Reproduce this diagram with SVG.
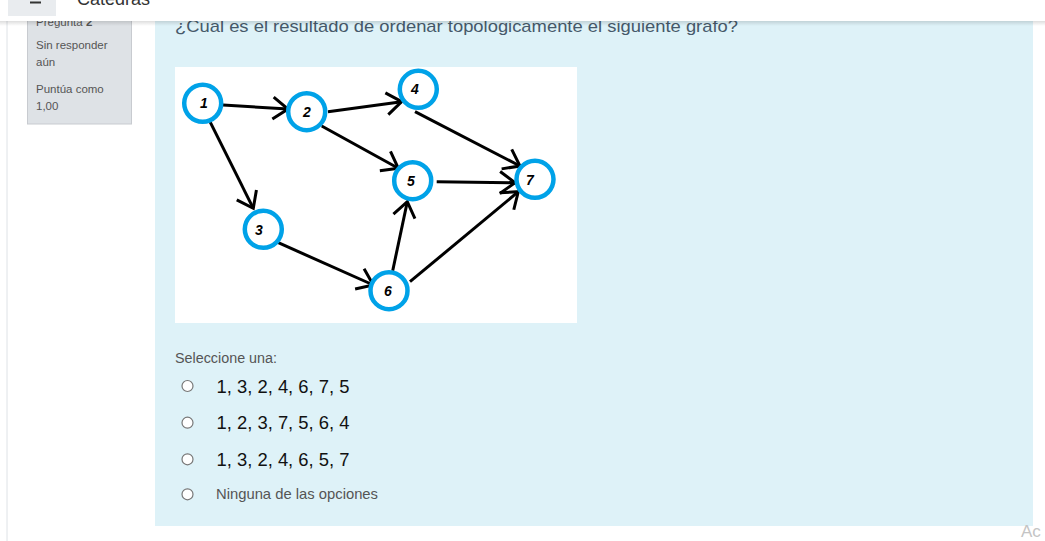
<svg xmlns="http://www.w3.org/2000/svg" width="1045" height="541" viewBox="0 0 1045 541">
<style>
.nd{fill:#fff;stroke:#00a2e8;stroke-width:4.5}
.nl{font-family:"Liberation Sans",Arial,sans-serif;font-size:14px;font-style:italic;font-weight:bold;fill:#000;text-anchor:middle}
.ed{stroke:#000;stroke-width:3;fill:none;marker-end:url(#arr)}
.opt{font-family:"Liberation Sans",Arial,sans-serif;font-size:18.5px;fill:#111}
.gray{font-family:"Liberation Sans",Arial,sans-serif;fill:#555}
.rad{fill:#fff;stroke:#777;stroke-width:1.2}
</style>
<defs>
<marker id="arr" markerUnits="userSpaceOnUse" markerWidth="24" markerHeight="30" refX="20" refY="15" orient="auto" overflow="visible">
<path d="M5 4 L20 15 L5 26" stroke="#000" stroke-width="3" fill="none"/>
</marker>
<linearGradient id="sh" x1="0" y1="0" x2="0" y2="1">
<stop offset="0" stop-color="#000" stop-opacity="0.13"/>
<stop offset="1" stop-color="#000" stop-opacity="0"/>
</linearGradient>
</defs>
<rect width="1045" height="541" fill="#fff"/>
<line x1="7" y1="21" x2="7" y2="541" stroke="#dee2e6" stroke-width="1"/>
<rect x="27.5" y="10" width="104" height="114" fill="#dee2e6" stroke="#c8cbd0"/>
<text x="36" y="26" class="gray" font-size="11.5px" fill="#333">Pregunta <tspan font-weight="bold">2</tspan></text>
<text x="36" y="49" class="gray" font-size="11.5px" fill="#333">Sin responder</text>
<text x="36" y="66" class="gray" font-size="11.5px" fill="#333">aún</text>
<text x="36" y="93" class="gray" font-size="11.5px" fill="#333">Puntúa como</text>
<text x="36" y="110" class="gray" font-size="11.5px" fill="#333">1,00</text>
<rect x="155" y="10" width="878" height="516" fill="#def2f8"/>
<text x="175" y="32" font-family="Liberation Sans, Arial, sans-serif" font-size="17px" fill="#46596a" textLength="563" lengthAdjust="spacingAndGlyphs">¿Cual es el resultado de ordenar topologicamente el siguiente grafo?</text>
<rect x="175" y="67" width="402" height="256" fill="#fff"/>
<g id="connectors">
<line class="ed" x1="223" y1="105" x2="288" y2="109"/>
<line class="ed" x1="328" y1="111.7" x2="401.7" y2="101.7"/>
<line class="ed" x1="321.7" y1="126" x2="398.3" y2="168.3"/>
<line class="ed" x1="415" y1="111.7" x2="520" y2="166"/>
<line class="ed" x1="436.7" y1="181.7" x2="515" y2="182.7"/>
<line class="ed" x1="410" y1="281.7" x2="518.3" y2="191.7"/>
<line class="ed" x1="210" y1="121.7" x2="253.3" y2="208.3"/>
<line class="ed" x1="278.3" y1="242.7" x2="373.3" y2="285"/>
<line class="ed" x1="392.7" y1="270.7" x2="407.3" y2="201.7"/>
</g>
<g id="n1"><circle class="nd" cx="202.7" cy="103.3" r="18.5"/><text class="nl" x="204" y="108">1</text></g>
<g id="n2"><circle class="nd" cx="306.7" cy="111.7" r="18.5"/><text class="nl" x="307" y="117">2</text></g>
<g id="n4"><circle class="nd" cx="418.3" cy="89.3" r="18.5"/><text class="nl" x="415" y="94">4</text></g>
<g id="n5"><circle class="nd" cx="412.7" cy="180.7" r="18.5"/><text class="nl" x="411" y="186">5</text></g>
<g id="n7"><circle class="nd" cx="535" cy="179.3" r="18.5"/><text class="nl" x="530" y="185">7</text></g>
<g id="n3"><circle class="nd" cx="263.3" cy="229.3" r="18.5"/><text class="nl" x="259" y="235">3</text></g>
<g id="n6"><circle class="nd" cx="389" cy="290.7" r="18.5"/><text class="nl" x="388" y="296">6</text></g>
<text x="175" y="362.7" class="gray" font-size="14px" textLength="102" lengthAdjust="spacingAndGlyphs">Seleccione una:</text>
<circle class="rad" cx="187.5" cy="386" r="5.5"/>
<circle class="rad" cx="187.5" cy="422.7" r="5.5"/>
<circle class="rad" cx="187.5" cy="459.3" r="5.5"/>
<circle class="rad" cx="187.5" cy="494.3" r="5.5"/>
<text x="216.5" y="392.5" class="opt" textLength="133" lengthAdjust="spacingAndGlyphs">1, 3, 2, 4, 6, 7, 5</text>
<text x="216.5" y="429" class="opt" textLength="133" lengthAdjust="spacingAndGlyphs">1, 2, 3, 7, 5, 6, 4</text>
<text x="216.5" y="466" class="opt" textLength="133" lengthAdjust="spacingAndGlyphs">1, 3, 2, 4, 6, 5, 7</text>
<text x="216" y="499.3" class="gray" font-size="14.5px" textLength="162" lengthAdjust="spacingAndGlyphs">Ninguna de las opciones</text>
<text x="1021" y="537" font-family="Liberation Sans, Arial, sans-serif" font-size="17px" fill="#c4c4c4">Ac</text>
<rect x="0" y="21" width="1045" height="5" fill="url(#sh)"/>
<rect x="0" y="0" width="1045" height="21" fill="#fff"/>
<rect x="8" y="0" width="48" height="16" fill="#e9ecef"/>
<rect x="30" y="1.5" width="11" height="2" fill="#333"/>
<text x="77" y="5" font-family="Liberation Sans, Arial, sans-serif" font-size="18px" fill="#333">Catedras</text>
</svg>
